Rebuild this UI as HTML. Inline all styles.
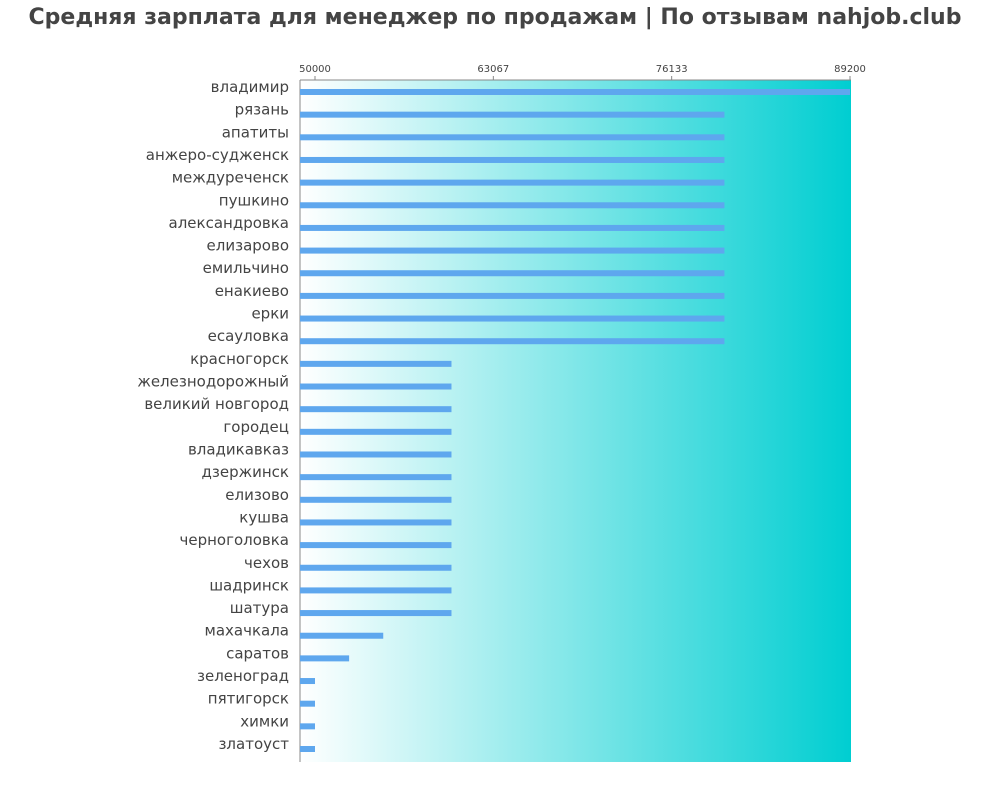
<!DOCTYPE html>
<html><head><meta charset="utf-8"><style>
body{margin:0;background:#fff;font-family:"Liberation Sans","DejaVu Sans",sans-serif;}
</style></head><body>
<svg id="chart" width="1000" height="800" xmlns="http://www.w3.org/2000/svg">
<defs><linearGradient id="bg" x1="0" x2="1" y1="0" y2="0"><stop offset="0" stop-color="#ffffff"/><stop offset="1" stop-color="#00ced1"/></linearGradient></defs>
<text x="495" y="24" text-anchor="middle" font-family="DejaVu Sans, sans-serif" font-weight="bold" font-size="22" fill="#444">Средняя зарплата для менеджер по продажам | По отзывам nahjob.club</text>
<rect x="300" y="80" width="551" height="682" fill="url(#bg)"/>
<line x1="300" y1="80" x2="851" y2="80" stroke="#888"/>
<line x1="300" y1="80" x2="300" y2="762" stroke="#888"/>
<g id="ticks"></g><g id="bars"></g><g id="labels"></g>
</svg>
<script>
const cities=["владимир","рязань","апатиты","анжеро-судженск","междуреченск","пушкино","александровка","елизарово","емильчино","енакиево","ерки","есауловка","красногорск","железнодорожный","великий новгород","городец","владикавказ","дзержинск","елизово","кушва","черноголовка","чехов","шадринск","шатура","махачкала","саратов","зеленоград","пятигорск","химки","златоуст"];
const salaries=[89200,80000,80000,80000,80000,80000,80000,80000,80000,80000,80000,80000,60000,60000,60000,60000,60000,60000,60000,60000,60000,60000,60000,60000,55000,52500,50000,50000,50000,50000];
const tickValues=[50000,63067,76133,89200];
const ns="http://www.w3.org/2000/svg";
function x(v){return 315+(v-50000)*(850-315)/(89200-50000);}
const n=cities.length, y0=92, y1=749;
function y(i){return y0+i*(y1-y0)/(n-1);}
const tg=document.getElementById('ticks'),bg=document.getElementById('bars'),lg=document.getElementById('labels');
tickValues.forEach(v=>{
 const l=document.createElementNS(ns,'line');
 
 
 l.setAttribute('x1',x(v));l.setAttribute('x2',x(v));l.setAttribute('y1',76);l.setAttribute('y2',80);l.setAttribute('stroke','#888');tg.appendChild(l);
 const t=document.createElementNS(ns,'text');
 
 
 t.setAttribute('x',x(v));t.setAttribute('y',72);t.setAttribute('text-anchor','middle');t.setAttribute('font-size','10');t.setAttribute('fill','#444');t.setAttribute('font-family','DejaVu Sans, sans-serif');t.textContent=v;tg.appendChild(t);
});
cities.forEach((c,i)=>{
 const r=document.createElementNS(ns,'rect');
 
 
 r.setAttribute('x',300);r.setAttribute('y',y(i)-3);r.setAttribute('width',Math.max(0,x(salaries[i])-300));r.setAttribute('height',6);r.setAttribute('fill','#5ea7ee');bg.appendChild(r);
 const t=document.createElementNS(ns,'text');
 
 
 t.setAttribute('x',289);t.setAttribute('y',y(i)-0);t.setAttribute('text-anchor','end');t.setAttribute('font-size','15');t.setAttribute('fill','#444');t.setAttribute('font-family','DejaVu Sans, sans-serif');t.textContent=c;lg.appendChild(t);
});
</script>
</body></html>
